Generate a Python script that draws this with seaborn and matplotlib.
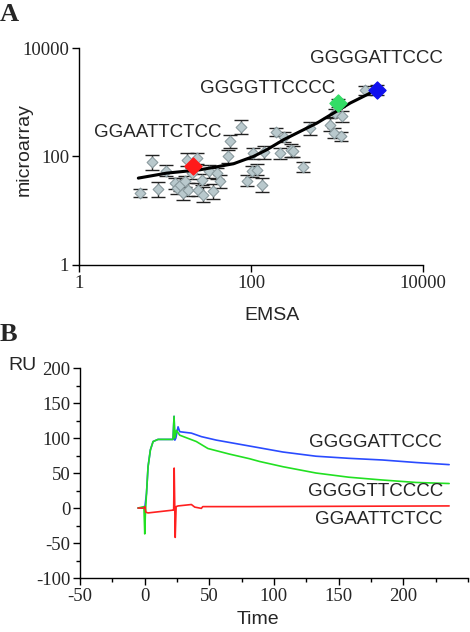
import numpy as np
import pandas as pd
import matplotlib
matplotlib.use("Agg")
import matplotlib.pyplot as plt
import seaborn as sns
from matplotlib.ticker import FixedLocator, MultipleLocator, NullLocator, NullFormatter

# --- Panel A: EMSA vs microarray ---
emsa = [5.1, 7.0, 8.2, 10.3, 13.1, 13.7, 15.0, 16.1, 17.1, 17.9, 18.7, 20.5, 23.4,
        24.5, 26.8, 28.0, 32.9, 36.6, 40.0, 43.8, 54.7, 57.3, 76.2, 89.5, 104, 105,
        119, 134, 140, 196, 219, 245, 291, 312, 401, 480, 834, 913, 954, 1111, 1141, 2133]
microarray = [21.0, 77.5, 24.9, 54.4, 32.2, 26.0, 30.0, 21.0, 34.5, 86.8, 24.2, 49.2, 93.1,
              24.2, 37.1, 19.6, 52.8, 22.6, 49.2, 34.5, 100, 189, 343, 35.6, 52.8, 115,
              56.7, 30.0, 119, 281, 115, 228, 129, 124, 63.6, 333, 384, 270, 631, 234, 548, 1653]
# error bar half-widths, in log10 units
err_log = [0.08, 0.14, 0.14, 0.10, 0.10, 0.10, 0.12, 0.12, 0.10, 0.12, 0.12, 0.10, 0.10,
           0.12, 0.10, 0.14, 0.12, 0.14, 0.10, 0.12, 0.12, 0.12, 0.13, 0.10, 0.10, 0.10,
           0.10, 0.13, 0.12, 0.08, 0.10, 0.10, 0.12, 0.10, 0.10, 0.12, 0.12, 0.10, 0.08,
           0.08, 0.10, 0.08]

highlight_names = ["GGAATTCTCC", "GGGGTTCCCC", "GGGGATTCCC"]
highlight_emsa = [21.0, 1025, 2915]
highlight_micro = [67.3, 966, 1702]
highlight_colors = ["#ff1a1a", "#33dd66", "#1010ee"]
highlight_err = [0.0, 0.07, 0.09]

fit_emsa = [4.9, 10.5, 25.6, 62.6, 107, 153, 239, 373, 584, 912, 1426, 2438]
fit_micro = [39.8, 49.2, 56.7, 73.2, 100, 133, 203, 289, 412, 631, 966, 1477]

# --- Panel B: sensorgrams ---
time_blue = [-5, -1, 0.15, 1.5, 2.7, 4.5, 6.6, 10.4, 22, 22.8, 23.4, 24.2, 25.9, 27.2,
             36.2, 43.9, 55.5, 81, 88.9, 107, 132.6, 158, 184, 210, 235.5]
ru_blue = [0, 0, 0, 21, 59, 83, 95, 98, 98, 131, 97, 100, 116, 109,
           107, 102, 97, 88.6, 86, 80, 74, 71, 68.6, 65, 62]
time_green = [-5, -0.5, 0.15, 0.6, 1.5, 2.7, 4.5, 6.6, 10.4, 22, 22.8, 23.4, 24.6, 27.2,
              40, 49, 65.7, 81, 88.9, 107, 132.6, 158, 184, 210, 235.5]
ru_green = [0, 2, -37, -10, 21, 59, 83, 95, 98, 98, 131, 100, 111, 104,
            95, 85, 77, 70.5, 66.5, 59, 50, 44, 40, 36.5, 35]
time_red = [-5, -0.5, 0.3, 1.0, 2.7, 22, 22.5, 22.9, 23.7, 24.4, 25.9, 36.2, 38.8,
            43.9, 45, 81, 235.5]
ru_red = [0, 0, 2, -6, -7, -3, -3, 57, -42, 2, 3, 5, 1.3, -0.5, 2, 2, 3]

sns.set_theme(style="white")
plt.rcParams["font.family"] = ["Liberation Sans", "DejaVu Sans"]
plt.rcParams["axes.unicode_minus"] = False
serif = "Liberation Serif"

fig = plt.figure(figsize=(4.7, 6.32), dpi=100)
ax1 = fig.add_axes([0.168, 0.581, 0.732, 0.343])
ax2 = fig.add_axes([0.170, 0.0854, 0.8255, 0.3323])

# ---------------- Panel A ----------------
ax1.set_xscale("log")
ax1.set_yscale("log")
mic = np.array(microarray)
el = np.array(err_log)
ax1.errorbar(emsa, mic, yerr=[mic - mic / 10**el, mic * 10**el - mic], fmt="none",
             ecolor="#222222", elinewidth=1.0, capsize=5, capthick=1.0, zorder=2)
hm = np.array(highlight_micro)
he = np.array(highlight_err)
ax1.errorbar(highlight_emsa, hm, yerr=[hm - hm / 10**he, hm * 10**he - hm], fmt="none",
             ecolor="#222222", elinewidth=1.0, capsize=5, capthick=1.0, zorder=2)

pts = pd.DataFrame({"emsa": emsa, "microarray": microarray})
sns.scatterplot(data=pts, x="emsa", y="microarray", marker="D", s=30,
                color="#b9c9cd", edgecolor="#8b9b9f", linewidth=0.8, ax=ax1, zorder=3)
fit = pd.DataFrame({"emsa": fit_emsa, "microarray": fit_micro})
sns.lineplot(data=fit, x="emsa", y="microarray", color="black", linewidth=2.2,
             ax=ax1, zorder=4, sort=True)
for xv, yv, c in zip(highlight_emsa, highlight_micro, highlight_colors):
    ax1.scatter([xv], [yv], marker="D", s=75, color=c, edgecolor=c, zorder=5)

ax1.text(17000, 6300, highlight_names[2], ha="right", va="center", fontsize=13.5)
ax1.text(950, 1830, highlight_names[1], ha="right", va="center", fontsize=13.5)
ax1.text(46, 271, highlight_names[0], ha="right", va="center", fontsize=13.5)

ax1.set_xlim(1, 10000)
ax1.set_ylim(1, 10000)
for axis in (ax1.xaxis, ax1.yaxis):
    axis.set_major_locator(FixedLocator([1, 100, 10000]))
    axis.set_minor_locator(NullLocator())
    axis.set_minor_formatter(NullFormatter())
ax1.set_xticklabels(["1", "100", "10000"])
ax1.set_yticklabels(["1", "100", "10000"])
ax1.set_xlabel("")
ax1.set_ylabel("")
fig.text(0.579, 0.500, "EMSA", fontsize=14, ha="center", va="center")
fig.text(0.051, 0.763, "microarray", fontsize=14, ha="center", va="center", rotation=90)

# ---------------- Panel B ----------------
for t, r, c in [(time_blue, ru_blue, "#2a4bff"), (time_green, ru_green, "#22e022"),
                (time_red, ru_red, "#ff2020")]:
    d = pd.DataFrame({"Time": t, "RU": r})
    sns.lineplot(data=d, x="Time", y="RU", color=c, linewidth=1.2, ax=ax2, sort=False)

ax2.text(230, 93, highlight_names[2], ha="right", va="center", fontsize=13.5)
ax2.text(231, 23, highlight_names[1], ha="right", va="center", fontsize=13.5)
ax2.text(230, -16, highlight_names[0], ha="right", va="center", fontsize=13.5)

ax2.set_xlim(-50, 250)
ax2.set_ylim(-100, 200)
ax2.xaxis.set_major_locator(FixedLocator([-50, 0, 50, 100, 150, 200]))
ax2.xaxis.set_minor_locator(MultipleLocator(25))
ax2.yaxis.set_major_locator(MultipleLocator(50))
ax2.yaxis.set_minor_locator(MultipleLocator(25))
ax2.set_xlabel("")
ax2.set_ylabel("")
fig.text(0.548, 0.019, "Time", fontsize=14, ha="center", va="center")
fig.text(0.017, 0.4217, "RU", fontsize=14, va="center", ha="left")

for ax in (ax1, ax2):
    sns.despine(ax=ax)
    ax.spines["left"].set_color("black")
    ax.spines["bottom"].set_color("black")
    ax.spines["left"].set_linewidth(1.0)
    ax.spines["bottom"].set_linewidth(1.0)
    ax.tick_params(which="major", direction="out", length=5, width=1, color="black",
                   left=True, bottom=True, pad=2)
    ax.tick_params(which="minor", direction="out", length=3, width=1, color="black",
                   left=True, bottom=True)
    for lab in ax.get_xticklabels() + ax.get_yticklabels():
        lab.set_family(serif)
        lab.set_fontsize(13.5)
    ax.grid(False)

fig.text(0.0, 0.995, "A", fontsize=19, fontweight="bold", family=serif, va="top")
fig.text(0.0, 0.489, "B", fontsize=19, fontweight="bold", family=serif, va="top")

fig.savefig("out.png", dpi=100)
